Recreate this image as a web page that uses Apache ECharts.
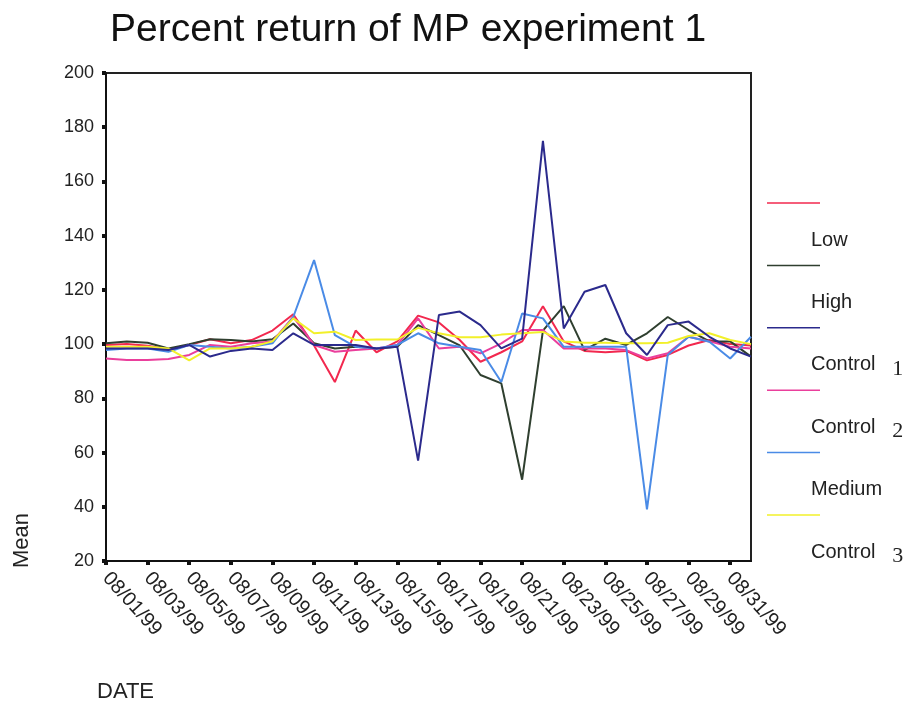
<!DOCTYPE html>
<html>
<head>
<meta charset="utf-8">
<script src="https://cdn.jsdelivr.net/npm/echarts@6/dist/echarts.min.js"></script>
<style>
  html, body { margin: 0; padding: 0; background: #fff; }
  #chart { width: 914px; height: 710px; }
</style>
</head>
<body>
<div id="chart"></div>
<script>
// dates 08/01/99 .. 09/01/99
const dates = [];
for (let d = 1; d <= 31; d++) dates.push('08/' + String(d).padStart(2, '0') + '/99');
dates.push('09/01/99');

const seriesNames = ['Low', 'High', 'Control 1', 'Control 2', 'Medium', 'Control 3'];

const low = [99.7, 100, 99.4, 98, 99.7, 101.8, 100.3, 101.5, 105, 111, 99.5, 86, 105, 97, 101, 110.5,
  108, 101.5, 93.5, 97, 101, 114, 101, 97.5, 97, 97.5, 94, 96, 99.5, 101.5, 100, 99.5];
const high = [100.3, 101, 100.5, 98.4, 100, 101.8, 101.5, 101, 101.8, 107.6, 100.3, 98.4, 99, 98.4, 99, 107,
  103.3, 99.5, 88.6, 85.5, 50, 105, 114, 97.8, 102, 99.7, 104, 110, 105.2, 101, 101, 95.4];
const control1 = [98.4, 98.4, 98.4, 97.8, 99.7, 95.4, 97.5, 98.4, 97.8, 104, 99.7, 99.7, 99.7, 98.4, 99, 57,
  110.7, 112, 107, 98.4, 102, 175, 105.8, 119.3, 121.8, 104, 96, 107, 108.3, 102.7, 98.4, 95.4];
const control2 = [94.7, 94.1, 94.1, 94.5, 96, 99.7, 99, 100.3, 101, 110, 99.7, 97.2, 97.8, 98.4, 99.7, 109.5,
  98.4, 99, 96.6, 100.3, 105.2, 105.2, 98.4, 98.4, 98.4, 97.8, 94.7, 96.6, 102.7, 101, 99, 98.4];
const medium = [97.8, 98.4, 98.4, 97.2, 99.7, 99, 98.4, 99, 100.3, 110, 131, 103.3, 99, 98.4, 99.7, 104,
  100.3, 99, 97.8, 86, 111.3, 109.5, 99, 99, 99, 99, 39, 96, 102.7, 100.9, 94.7, 102.7];
const control3 = [99, 99, 99, 98.4, 94, 98.4, 98.4, 99, 101, 109.5, 104, 104.6, 101.5, 101.7, 101.7, 106,
  104, 102.5, 102.5, 103.5, 104, 104.5, 101, 100.5, 100.5, 100.3, 100.3, 100.5, 103, 104, 101.5, 100];

const yTicks = [20, 40, 60, 80, 100, 120, 140, 160, 180, 200];

const allData = [low, high, control1, control2, medium, control3];
const colors = ['#f2284e', '#2f3f2f', '#2b2a8c', '#ea3f9c', '#4a8be6', '#f2f02a'];

const font = '"Liberation Sans", Arial, sans-serif';
const chart = echarts.init(document.getElementById('chart'));

// legend drawn by hand: line sample, then label below it
const legendGraphics = [];
seriesNames.forEach((name, i) => {
  const y = 203 + i * 62.4;
  legendGraphics.push({
    type: 'line',
    shape: { x1: 767, y1: y, x2: 820, y2: y },
    style: { stroke: colors[i], lineWidth: 1.5 }
  });
  const parts = name.split(' ');
  legendGraphics.push({
    type: 'text',
    left: 811,
    top: y + 27,
    style: {
      text: parts.length > 1 ? parts[0] + '   {n|' + parts[1] + '}' : name,
      font: '20px ' + font,
      fill: '#222',
      rich: { n: { fontFamily: '"Liberation Serif", "DejaVu Serif", serif', fontSize: 22, fill: '#222', padding: [8, 0, 0, 0] } }
    }
  });
});

const option = {
  backgroundColor: '#fff',
  animation: false,
  title: {
    text: 'Percent return of MP experiment 1',
    left: 105,
    top: 6,
    textStyle: { fontFamily: font, fontWeight: 'normal', fontSize: 39, color: '#111' }
  },
  grid: { left: 106, right: 163, top: 73, bottom: 149, show: true, borderColor: '#222', borderWidth: 2 },
  xAxis: {
    type: 'category',
    data: dates,
    boundaryGap: false,
    axisLine: { lineStyle: { color: '#111', width: 2 } },
    axisTick: { show: true, interval: 1, length: 4, lineStyle: { color: '#111', width: 4 } },
    axisLabel: {
      interval: 1,
      rotate: -48,
      margin: 14,
      fontFamily: font,
      fontSize: 20,
      color: '#222'
    },
    splitLine: { show: false }
  },
  yAxis: {
    type: 'value',
    min: 20,
    max: 200,
    interval: 20,
    axisLine: { show: true, lineStyle: { color: '#111', width: 2 } },
    axisTick: { show: true, length: 4, lineStyle: { color: '#111', width: 4 } },
    axisLabel: {
      fontFamily: font,
      fontSize: 18,
      color: '#222',
      margin: 12,
      formatter: v => yTicks.includes(v) ? String(v) : ''
    },
    splitLine: { show: false }
  },
  graphic: [
    {
      type: 'text',
      left: 11,
      top: 513,
      rotation: Math.PI / 2,
      style: { text: 'Mean', font: '22px ' + font, fill: '#222' }
    },
    {
      type: 'text',
      left: 97,
      top: 681,
      style: { text: 'DATE', font: '22px ' + font, fill: '#222' }
    }
  ].concat(legendGraphics),
  series: seriesNames.map((name, i) => ({
    name: name,
    type: 'line',
    data: allData[i],
    symbol: 'none',
    z: i === 2 ? 3 : 2,
    lineStyle: { color: colors[i], width: 2 },
    itemStyle: { color: colors[i] }
  }))
};

chart.setOption(option);
</script>
</body>
</html>
